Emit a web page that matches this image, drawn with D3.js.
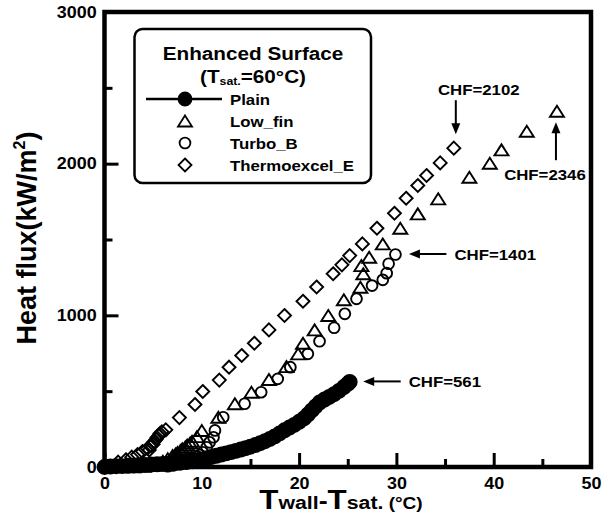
<!DOCTYPE html>
<html>
<head>
<meta charset="utf-8">
<script src="https://cdn.jsdelivr.net/npm/d3@7"></script>
<style>
  body { margin: 0; background: #fff; }
  svg { display: block; }
  text { font-family: "Liberation Sans", Arial, sans-serif; font-weight: bold; fill: #000; }
</style>
</head>
<body>
<div id="chart"></div>
<script>
// axis ticks
const xTicks = [0, 10, 20, 30, 40, 50];
const xMinor = [5, 15, 25, 35, 45];
const yTicks = [0, 1000, 2000, 3000];
const yMinor = [500, 1500, 2500];

// Plain (filled circles + line)
const plainT = [0, 0.6, 1.2, 1.8, 2.4, 3.0, 3.6, 4.2, 4.8, 5.4, 6.0, 6.6, 7.2, 7.8, 8.4, 9.0, 9.5, 10.0, 10.5, 11.0,
  11.5, 12.0, 12.5, 13.0, 13.5, 14.0, 14.5, 15.0, 15.5, 16.0, 16.5, 17.0, 17.5, 18.0, 18.5, 19.0, 19.5, 20.0,
  20.5, 20.9, 21.3, 21.7, 22.1, 22.6, 23.1, 23.6, 24.1, 24.6, 25.0, 25.2];
const plainQ = [0, 3, 5, 6, 8, 10, 12, 14, 16, 18, 20, 22, 25, 28, 32, 37, 42, 50, 58, 66,
  74, 82, 90, 98, 106, 115, 124, 134, 145, 157, 170, 185, 202, 222, 242, 260, 278, 298,
  320, 346, 373, 400, 425, 445, 462, 480, 502, 527, 548, 561];

// Low_fin (open triangles)
const lowfinT = [3.0, 4.0, 5.0, 5.5, 6.0, 6.5, 7.0, 7.3, 7.5, 7.8, 8.0, 8.3, 8.5, 8.8, 9.0, 9.5, 10.0, 11.7, 13.4, 15.1, 16.9, 18.7,
  19.9, 20.4, 21.6, 23.0, 24.6, 26.3, 26.6, 26.4, 27.2, 28.6, 30.4, 32.2, 34.3, 37.5, 39.6, 40.8, 43.4, 46.5];
const lowfinQ = [2, 5, 12, 22, 38, 55, 75, 85, 95, 108, 120, 132, 145, 158, 170, 200, 241, 328, 417, 493, 577, 662,
  746, 816, 904, 999, 1103, 1185, 1274, 1328, 1383, 1471, 1574, 1669, 1768, 1910, 2003, 2091, 2214, 2346];

// Turbo_B (open circles)
const turboT = [6.5, 7.0, 7.5, 8.0, 8.5, 9.0, 9.5, 9.8, 10.1, 10.5, 10.8, 11.2, 11.35, 12.2, 14.4, 16.1, 17.8,
  19.1, 20.9, 22.1, 23.6, 24.7, 25.9, 27.5, 28.6, 29.0, 29.2, 29.9];
const turboQ = [5, 10, 18, 28, 40, 55, 70, 80, 97, 130, 163, 196, 241, 328, 417, 493, 581,
  658, 746, 829, 918, 1010, 1109, 1196, 1234, 1278, 1340, 1401];

// Thermoexcel_E (open diamonds)
const thermoT = [0, 1.4, 2.2, 2.8, 3.4, 3.9, 4.4, 4.6, 4.8, 5.0, 5.1, 5.3, 5.4, 5.6, 5.7, 5.9, 6.3, 7.7, 9.3, 10.1, 11.8, 12.8, 14.1, 15.4,
  16.9, 18.5, 20.4, 21.8, 23.5, 24.4, 25.2, 26.5, 28.0, 29.8, 31.0, 32.2, 33.1, 34.5, 35.9];
const thermoQ = [0, 32, 48, 65, 82, 102, 122, 112, 142, 150, 168, 182, 194, 208, 221, 232, 245, 326, 412, 498, 573, 658, 735, 816,
  904, 999, 1093, 1187, 1274, 1333, 1394, 1471, 1574, 1673, 1772, 1856, 1922, 2005, 2102];

const seriesNames = ["Plain", "Low_fin", "Turbo_B", "Thermoexcel_E"];
const chfText = ["CHF=561", "CHF=2346", "CHF=1401", "CHF=2102"];
const chfDir = ["left", "up", "left", "down"];

const W = 607, H = 525, SX = 1.12;
const x = d3.scaleLinear().domain([0, 50]).range([104.5, 591]);
const y = d3.scaleLinear().domain([0, 3000]).range([467, 12]);

const svg = d3.select("#chart").append("svg").attr("width", W).attr("height", H);

function txt(sel, px, py, s, size, anchor) {
  return sel.append("text")
    .attr("transform", `translate(${px},${py}) scale(${SX},1)`)
    .attr("text-anchor", anchor || "start")
    .style("font-size", size + "px")
    .text(s);
}

// marker shapes
const triType = { draw(c) { c.moveTo(0, -5.5); c.lineTo(7, 5.5); c.lineTo(-7, 5.5); c.closePath(); } };
const circType = { draw(c) { c.moveTo(5.4, 0); c.arc(0, 0, 5.4, 0, 2 * Math.PI); } };
const diaType = { draw(c) { c.moveTo(0, -6.5); c.lineTo(6.5, 0); c.lineTo(0, 6.5); c.lineTo(-6.5, 0); c.closePath(); } };
const dotType = { draw(c) { c.moveTo(7, 0); c.arc(0, 0, 7, 0, 2 * Math.PI); } };
const dotLegType = { draw(c) { c.moveTo(6.5, 0); c.arc(0, 0, 6.5, 0, 2 * Math.PI); } };

const series = [
  { name: "Thermoexcel_E", t: thermoT, q: thermoQ, type: diaType, fill: "none" },
  { name: "Turbo_B", t: turboT, q: turboQ, type: circType, fill: "none" },
  { name: "Low_fin", t: lowfinT, q: lowfinQ, type: triType, fill: "none" },
  { name: "Plain", t: plainT, q: plainQ, type: dotType, leg: dotLegType, fill: "#000", line: true }
];

// axes: major + minor ticks pointing inward
svg.append("g").attr("transform", `translate(0,${y(0)})`)
  .call(d3.axisBottom(x).tickValues(xTicks).tickSizeInner(-14).tickSizeOuter(0).tickPadding(11).tickFormat(d3.format("d")));
svg.append("g").attr("transform", `translate(0,${y(0)})`)
  .call(d3.axisBottom(x).tickValues(xMinor).tickSizeInner(-8).tickSizeOuter(0).tickFormat(""));
svg.append("g").attr("transform", `translate(${x(0)},0)`)
  .call(d3.axisLeft(y).tickValues(yTicks).tickSizeInner(-14).tickSizeOuter(0).tickPadding(7).tickFormat(d3.format("d")));
svg.append("g").attr("transform", `translate(${x(0)},0)`)
  .call(d3.axisLeft(y).tickValues(yMinor).tickSizeInner(-8).tickSizeOuter(0).tickFormat(""));

svg.selectAll(".domain").remove();
svg.selectAll(".tick line").attr("stroke", "#000").attr("stroke-width", 3);
svg.selectAll(".tick text")
  .attr("transform", `scale(${SX},1)`)
  .style("font-size", "16px")
  .style("font-family", '"Liberation Sans", Arial, sans-serif')
  .style("font-weight", "bold")
  .attr("fill", "#000");

// frame
svg.append("rect")
  .attr("x", x(0)).attr("y", y(3000))
  .attr("width", x(50) - x(0)).attr("height", y(0) - y(3000))
  .attr("fill", "none").attr("stroke", "#000").attr("stroke-width", 4.5);

// data
const plot = svg.append("g");
series.forEach(s => {
  const pts = s.t.map((t, i) => [t, s.q[i]]);
  if (s.line) {
    plot.append("path").datum(pts)
      .attr("d", d3.line().x(d => x(d[0])).y(d => y(d[1])))
      .attr("fill", "none").attr("stroke", "#000").attr("stroke-width", 2);
  }
  plot.selectAll(null).data(pts).enter().append("path")
    .attr("transform", d => `translate(${x(d[0])},${y(d[1])})`)
    .attr("d", d3.symbol().type(s.type))
    .attr("fill", s.fill).attr("stroke", "#000").attr("stroke-width", 1.9);
});

// CHF annotations
function arrowHead(px, py, dir) {
  const p = d3.path();
  if (dir === "down") { p.moveTo(px, py); p.lineTo(px - 4.5, py - 11); p.lineTo(px + 4.5, py - 11); }
  if (dir === "up") { p.moveTo(px, py); p.lineTo(px - 4.5, py + 11); p.lineTo(px + 4.5, py + 11); }
  if (dir === "left") { p.moveTo(px, py); p.lineTo(px + 11, py - 4.5); p.lineTo(px + 11, py + 4.5); }
  p.closePath();
  return p.toString();
}
const ann = svg.append("g");
seriesNames.forEach((name, i) => {
  const s = series.find(d => d.name === name);
  const n = s.t.length - 1;
  const px = x(s.t[n]), py = y(s.q[n]);
  const dir = chfDir[i];
  let x1, y1, x2, y2, tx, ty, anchor;
  if (dir === "down") { x1 = x2 = px + 2; y1 = py - 48; y2 = py - 14; tx = px + 25; ty = py - 53; anchor = "middle"; }
  if (dir === "up") { x1 = x2 = px - 1; y1 = py + 49; y2 = py + 11; tx = px - 12; ty = py + 69; anchor = "middle"; }
  if (dir === "left") { y1 = y2 = py - 0.5; x1 = px + 51; x2 = px + 13.5; tx = px + 59; ty = py + 5; anchor = "start"; }
  const sx = dir === "left" ? 10 : 0;
  const sy = dir === "down" ? -10 : dir === "up" ? 10 : 0;
  ann.append("line").attr("x1", x1).attr("y1", y1).attr("x2", x2 + sx).attr("y2", y2 + sy)
    .attr("stroke", "#000").attr("stroke-width", 2);
  ann.append("path").attr("d", arrowHead(x2, y2, dir)).attr("fill", "#000");
  txt(ann, tx, ty, chfText[i], 15, anchor);
});

// legend
const lg = svg.append("g");
lg.append("rect").attr("x", 134.5).attr("y", 29).attr("width", 236.5).attr("height", 154)
  .attr("rx", 8).attr("fill", "#fff").attr("stroke", "#000").attr("stroke-width", 2.5);
txt(lg, 253, 60, "Enhanced Surface", 18.5, "middle");
const t2 = lg.append("text")
  .attr("transform", `translate(253,83) scale(${SX},1)`)
  .attr("text-anchor", "middle").style("font-size", "18.5px");
t2.append("tspan").text("(T");
t2.append("tspan").style("font-size", "11px").attr("dy", 2).text("sat.");
t2.append("tspan").attr("dy", -2).text("=60°C)");

const legRowY = [99, 121, 143, 165];
const legOrder = ["Plain", "Low_fin", "Turbo_B", "Thermoexcel_E"];
legOrder.forEach((name, i) => {
  const s = series.find(d => d.name === name);
  const cy = legRowY[i];
  if (s.line) {
    lg.append("line").attr("x1", 146).attr("x2", 222).attr("y1", cy).attr("y2", cy)
      .attr("stroke", "#000").attr("stroke-width", 2.5);
  }
  lg.append("path").attr("transform", `translate(185,${cy})`)
    .attr("d", d3.symbol().type(s.leg || s.type))
    .attr("fill", s.fill).attr("stroke", "#000").attr("stroke-width", 1.8);
  txt(lg, 230, cy + 5.5, name, 15, "start");
});

// axis titles
const xt = svg.append("text")
  .attr("transform", `translate(341,509) scale(${SX},1)`)
  .attr("text-anchor", "middle");
xt.append("tspan").style("font-size", "28px").text("T");
xt.append("tspan").style("font-size", "19px").text("wall");
xt.append("tspan").style("font-size", "24px").text("-");
xt.append("tspan").style("font-size", "28px").text("T");
xt.append("tspan").style("font-size", "19px").text("sat.");
xt.append("tspan").style("font-size", "17px").text(" (°C)");

const yt = svg.append("text")
  .attr("transform", "translate(36,238) rotate(-90)")
  .attr("text-anchor", "middle").style("font-size", "27px");
yt.append("tspan").text("Heat flux(kW/m");
yt.append("tspan").style("font-size", "16px").attr("dy", -11).text("2");
yt.append("tspan").attr("dy", 11).text(")");
</script>
</body>
</html>
